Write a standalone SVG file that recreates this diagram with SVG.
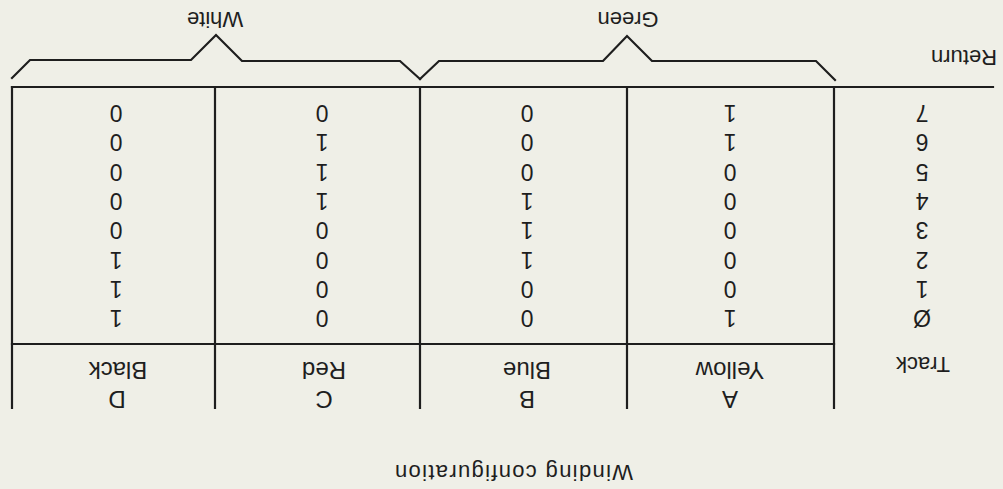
<svg xmlns="http://www.w3.org/2000/svg" width="1003" height="489" viewBox="0 0 1003 489">
<style>
.ln{stroke:#1e1e1e;stroke-width:2.2;fill:none;stroke-linecap:square}
.t{font-family:"Liberation Sans",Arial,sans-serif;font-size:22px;fill:#1e1e1e;text-anchor:middle}
.h{font-family:"Liberation Sans",Arial,sans-serif;font-size:24px;fill:#1e1e1e;text-anchor:middle}
.d{font-family:"Liberation Sans",Arial,sans-serif;font-size:23px;fill:#1e1e1e;text-anchor:middle}
</style>
<rect x="0" y="0" width="1003" height="489" fill="#efefe7"/>
<g transform="rotate(180 501.5 244.5)">
  <g id="connectors">
    <line class="ln" x1="10" y1="402" x2="991" y2="402"/>
    <line class="ln" x1="169" y1="145" x2="991" y2="145"/>
    <line class="ln" x1="169" y1="81" x2="169" y2="402"/>
    <line class="ln" x1="376" y1="81" x2="376" y2="402"/>
    <line class="ln" x1="583" y1="81" x2="583" y2="402"/>
    <line class="ln" x1="788" y1="81" x2="788" y2="402"/>
    <line class="ln" x1="991" y1="81" x2="991" y2="402"/>
    <polyline class="ln" points="991,411 973,429 812,429 787,454 761,428 603,428 583,410"/>
    <polyline class="ln" points="583,410 564,428 400,428 376,453 351,428 187,428 168,409"/>
  </g>
  <g id="labels">
    <text class="t" x="788" y="477">White</text>
    <text class="t" x="375" y="477">Green</text>
    <text class="t" x="39" y="439">Return</text>
    <text class="t" x="80" y="132">Track</text>
    <text class="t" x="489" y="24" textLength="238" lengthAdjust="spacing">Winding configuration</text>
  </g>
  <g id="track">
    <text class="d" x="81" y="179">Ø</text>
    <text class="d" x="81" y="208">1</text>
    <text class="d" x="81" y="237">2</text>
    <text class="d" x="81" y="267">3</text>
    <text class="d" x="81" y="296">4</text>
    <text class="d" x="81" y="325">5</text>
    <text class="d" x="81" y="355">6</text>
    <text class="d" x="81" y="384">7</text>
  </g>
  <g id="colA">
    <text class="h" x="273" y="98">A</text>
    <text class="h" x="273" y="127">Yellow</text>
    <text class="d" x="273" y="179">1</text>
    <text class="d" x="273" y="208">0</text>
    <text class="d" x="273" y="237">0</text>
    <text class="d" x="273" y="267">0</text>
    <text class="d" x="273" y="296">0</text>
    <text class="d" x="273" y="325">0</text>
    <text class="d" x="273" y="355">1</text>
    <text class="d" x="273" y="384">1</text>
  </g>
  <g id="colB">
    <text class="h" x="476" y="98">B</text>
    <text class="h" x="476" y="127">Blue</text>
    <text class="d" x="476" y="179">0</text>
    <text class="d" x="476" y="208">0</text>
    <text class="d" x="476" y="237">1</text>
    <text class="d" x="476" y="267">1</text>
    <text class="d" x="476" y="296">1</text>
    <text class="d" x="476" y="325">0</text>
    <text class="d" x="476" y="355">0</text>
    <text class="d" x="476" y="384">0</text>
  </g>
  <g id="colC">
    <text class="h" x="679" y="98">C</text>
    <text class="h" x="679" y="127">Red</text>
    <text class="d" x="681" y="179">0</text>
    <text class="d" x="681" y="208">0</text>
    <text class="d" x="681" y="237">0</text>
    <text class="d" x="681" y="267">0</text>
    <text class="d" x="681" y="296">1</text>
    <text class="d" x="681" y="325">1</text>
    <text class="d" x="681" y="355">1</text>
    <text class="d" x="681" y="384">0</text>
  </g>
  <g id="colD">
    <text class="h" x="886" y="98">D</text>
    <text class="h" x="885" y="127">Black</text>
    <text class="d" x="887" y="179">1</text>
    <text class="d" x="887" y="208">1</text>
    <text class="d" x="887" y="237">1</text>
    <text class="d" x="887" y="267">0</text>
    <text class="d" x="887" y="296">0</text>
    <text class="d" x="887" y="325">0</text>
    <text class="d" x="887" y="355">0</text>
    <text class="d" x="887" y="384">0</text>
  </g>
</g>
</svg>
